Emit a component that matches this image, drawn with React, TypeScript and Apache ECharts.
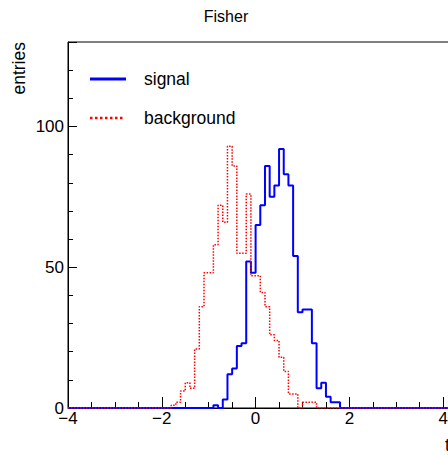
import React, { useEffect, useRef } from "react";
import * as echarts from "echarts";

// Histogram binning (edges on multiples of BIN_WIDTH)
const X_MIN = -4;
const X_MAX = 4.5;
const BIN_WIDTH = 0.1;
const Y_MIN = 0;
const Y_MAX = 130;

const xTickLabels = [-4, -2, 0, 2, 4];
const yTickLabels = [0, 50, 100];

// signal: first non-empty bin starts at -0.9
const signalFirstEdge = -0.9;
const signalCounts = [1, 0, 3, 12, 14, 22, 23, 52, 48, 65, 72, 86, 75, 79, 92, 83, 79, 54, 34, 35, 35, 23, 7, 9, 4, 2, 2];

// background: first non-empty bin starts at -1.8
const backgroundFirstEdge = -1.8;
const backgroundCounts = [1, 2, 6, 9, 7, 21, 36, 48, 48, 58, 72, 66, 93, 86, 55, 55, 76, 47, 47, 41, 36, 26, 24, 18, 13, 5, 5, 0, 2, 2, 2];

const FONT = "'Liberation Sans', Arial, Helvetica, sans-serif";

function histPoints(firstEdge: number, counts: number[]): number[][] {
  const nBins = Math.round((X_MAX - X_MIN) / BIN_WIDTH);
  const offset = Math.round((firstEdge - X_MIN) / BIN_WIDTH);
  const pts: number[][] = [];
  for (let i = 0; i < nBins; i++) {
    const edge = Math.round((X_MIN + i * BIN_WIDTH) * 100) / 100;
    const j = i - offset;
    const c = j >= 0 && j < counts.length ? counts[j] : 0;
    pts.push([edge, c]);
  }
  pts.push([X_MAX, 0]);
  return pts;
}

const fmtNum = (v: number) => (v < 0 ? "\u2212" + Math.abs(v) : String(v));

export default function App() {
  const ref = useRef<HTMLDivElement>(null);

  useEffect(() => {
    if (!ref.current) return;
    const chart = echarts.init(ref.current, undefined, { renderer: "svg" });
    const pxPerUnit = 46.9;
    const gridLeft = 68;
    const gridTop = 42;
    const gridWidth = (X_MAX - X_MIN) * pxPerUnit;
    const gridHeight = 366;

    const baseX = {
      type: "value",
      min: X_MIN,
      max: X_MAX,
      position: "bottom",
      splitLine: { show: false },
    };
    const baseY = {
      type: "value",
      min: Y_MIN,
      max: Y_MAX,
      position: "left",
      splitLine: { show: false },
    };

    chart.setOption({
      animation: false,
      backgroundColor: "#fff",
      grid: {
        left: gridLeft,
        top: gridTop,
        width: gridWidth,
        height: gridHeight,
        show: true,
        borderColor: "#000",
        borderWidth: 1,
        backgroundColor: "transparent",
      },
      xAxis: [
        {
          ...baseX,
          interval: 2,
          axisLine: { show: true, onZero: false, lineStyle: { color: "#000", width: 1 } },
          axisTick: { show: true, inside: true, length: 11, lineStyle: { color: "#000" } },
          axisLabel: {
            show: true,
            margin: 2,
            color: "#000",
            fontFamily: FONT,
            fontSize: 17,
            formatter: (v: number) => (xTickLabels.includes(v) ? fmtNum(v) : ""),
          },
        },
        {
          ...baseX,
          interval: 0.5,
          axisLine: { show: false, onZero: false },
          axisTick: { show: true, inside: true, length: 6, lineStyle: { color: "#000" } },
          axisLabel: { show: false },
        },
      ],
      yAxis: [
        {
          ...baseY,
          interval: 50,
          axisLine: { show: true, onZero: false, lineStyle: { color: "#000", width: 1 } },
          axisTick: { show: true, inside: true, length: 9, lineStyle: { color: "#000" } },
          axisLabel: {
            show: true,
            margin: 4,
            color: "#000",
            fontFamily: FONT,
            fontSize: 17,
            formatter: (v: number) => (yTickLabels.includes(v) ? String(v) : ""),
          },
        },
        {
          ...baseY,
          interval: 10,
          axisLine: { show: false, onZero: false },
          axisTick: { show: true, inside: true, length: 5, lineStyle: { color: "#000" } },
          axisLabel: { show: false },
        },
      ],
      series: [
        {
          name: "signal",
          type: "line",
          step: "end",
          symbol: "none",
          xAxisIndex: 0,
          yAxisIndex: 0,
          data: histPoints(signalFirstEdge, signalCounts),
          lineStyle: { color: "#0000ff", width: 2 },
          z: 3,
        },
        {
          name: "background",
          type: "line",
          step: "end",
          symbol: "none",
          xAxisIndex: 0,
          yAxisIndex: 0,
          data: histPoints(backgroundFirstEdge, backgroundCounts),
          lineStyle: { color: "#ff0000", width: 1.5, type: [1.5, 1.5] },
          z: 4,
        },
      ],
      graphic: [
        {
          type: "text",
          x: 226,
          y: 16,
          style: { text: "Fisher", font: `16px ${FONT}`, fill: "#000", textAlign: "center", textVerticalAlign: "middle" },
        },
        {
          type: "text",
          x: 19,
          y: 42,
          rotation: Math.PI / 2,
          style: { text: "entries", font: `17.5px ${FONT}`, fill: "#000", textAlign: "right", textVerticalAlign: "middle" },
        },
        {
          type: "text",
          x: 445,
          y: 445,
          style: { text: "t", font: `17.5px ${FONT}`, fill: "#000", textAlign: "left", textVerticalAlign: "middle" },
        },
        {
          type: "line",
          shape: { x1: 90, y1: 79, x2: 126, y2: 79 },
          style: { stroke: "#0000ff", lineWidth: 3 },
        },
        {
          type: "text",
          x: 144,
          y: 79,
          style: { text: "signal", font: `17.5px ${FONT}`, fill: "#000", textAlign: "left", textVerticalAlign: "middle" },
        },
        {
          type: "line",
          shape: { x1: 90, y1: 118, x2: 124, y2: 118 },
          style: { stroke: "#ff0000", lineWidth: 2.5, lineDash: [2.5, 2.5] },
        },
        {
          type: "text",
          x: 144,
          y: 118,
          style: { text: "background", font: `17.5px ${FONT}`, fill: "#000", textAlign: "left", textVerticalAlign: "middle" },
        },
      ],
    });
    return () => chart.dispose();
  }, []);

  return (
    <div style={{ position: "fixed", left: 0, top: 0, width: 448, height: 455, overflow: "hidden", background: "#fff" }}>
      <div ref={ref} style={{ width: 520, height: 455 }} />
    </div>
  );
}
